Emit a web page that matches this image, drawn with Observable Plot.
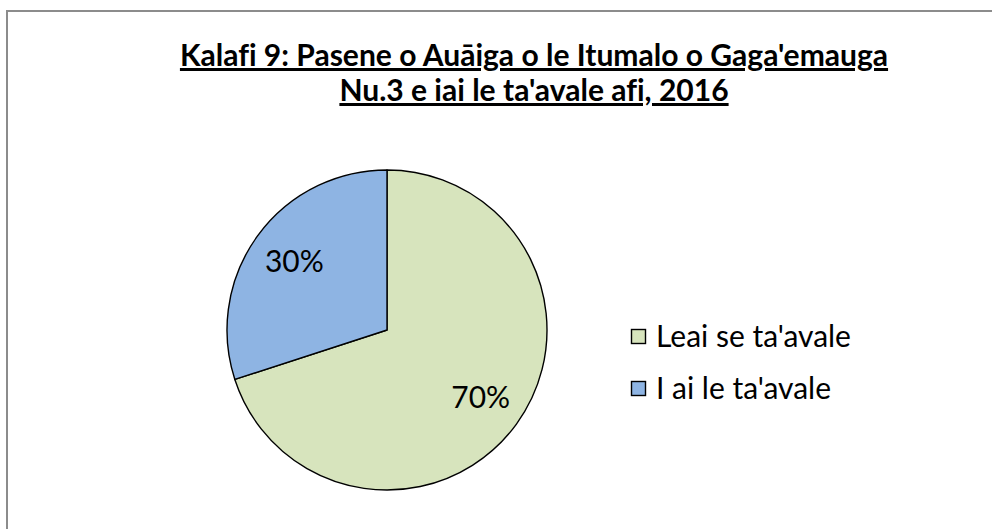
<!DOCTYPE html>
<html><head><meta charset="utf-8">
<script src="https://cdn.jsdelivr.net/npm/d3@7"></script>
<script src="https://cdn.jsdelivr.net/npm/@observablehq/plot@0.6"></script>
<style>
body{margin:0;background:#fff;}
#wrap{position:relative;width:992px;height:529px;overflow:hidden;background:#fff;}
#frame{position:absolute;left:6px;top:10px;width:1100px;height:700px;border:2px solid #8c8c8c;box-sizing:border-box;}
#chart,#over{position:absolute;left:0;top:0;}
text{font-variant-ligatures:none;}
#chart svg, #chart text{font-family:Lato, sans-serif !important;}
</style></head>
<body><div id="wrap"><div id="frame"></div><div id="chart"></div><svg id="over" width="992" height="529"></svg></div>
<script>
const titleLines = ["Kalafi 9: Pasene o Auāiga o le Itumalo o Gaga'emauga", "Nu.3 e iai le ta'avale afi, 2016"];
const categories = ["Leai se ta'avale", "I ai le ta'avale"];
const values = [70, 30];
const labels = ["70%", "30%"];
const colors = ["#D7E4BD", "#8EB4E3"];

const FONT = "Lato, sans-serif";

function draw() {
  const ctx = document.createElement("canvas").getContext("2d");
  function fit(text, weight, target) {
    ctx.font = `${weight} 100px Lato`;
    return 100 * target / ctx.measureText(text).width;
  }
  const titleSize = fit(titleLines[0], "bold", 709);
  const legendSize = fit(categories[0], "normal", 195);
  const labelSize = legendSize;

  const data = categories.map((c, i) => ({category: c, value: values[i], label: labels[i]}));
  const arcs = d3.pie().sort(null).value(d => d.value)(data);
  const k = 0.72;
  const labelData = arcs.map(a => {
    const m = (a.startAngle + a.endAngle) / 2;
    return {label: a.data.label, x: k * Math.sin(m), y: k * Math.cos(m)};
  });
  const color = d3.scaleOrdinal(categories, colors);

  function pieMark(index, scales) {
    const cx = scales.x(0), cy = scales.y(0), r = scales.x(1) - scales.x(0);
    const g = d3.create("svg:g").attr("transform", `translate(${cx},${cy})`);
    const arc = d3.arc().innerRadius(0).outerRadius(r);
    g.selectAll("path").data(arcs).join("path")
      .attr("d", arc)
      .attr("fill", d => color(d.data.category))
      .attr("stroke", "#000")
      .attr("stroke-width", 1.4)
      .attr("stroke-linejoin", "round");
    return g.node();
  }

  const plot = Plot.plot({
    width: 992, height: 529,
    marginTop: 0, marginRight: 0, marginBottom: 0, marginLeft: 0,
    x: {domain: [-1, 1], range: [227, 547], axis: null},
    y: {domain: [-1, 1], range: [490, 170], axis: null},
    style: {background: "transparent", fontFamily: FONT},
    marks: [
      pieMark,
      Plot.text(labelData, {x: "x", y: "y", text: "label", fontSize: labelSize, fill: "#000", fontFamily: FONT})
    ]
  });
  document.getElementById("chart").appendChild(plot);

  const over = d3.select("#over");
  const titleBaselines = [66, 101];
  titleLines.forEach((t, i) => {
    over.append("text").attr("x", 534).attr("y", titleBaselines[i])
      .attr("text-anchor", "middle").attr("font-family", FONT).attr("font-weight", "bold")
      .attr("font-size", titleSize).attr("fill", "#000")
      .attr("text-decoration", "underline").text(t);
  });
  const legY = [337, 389];
  categories.forEach((c, i) => {
    over.append("rect").attr("x", 631.5).attr("y", legY[i] - 7.5).attr("width", 14).attr("height", 14)
      .attr("fill", colors[i]).attr("stroke", "#000").attr("stroke-width", 1.4);
    over.append("text").attr("x", 656).attr("y", legY[i] + 10)
      .attr("font-family", FONT).attr("font-size", legendSize).attr("fill", "#000").text(c);
  });
}

Promise.all([document.fonts.load("400 20px Lato"), document.fonts.load("700 20px Lato")])
  .catch(() => {}).then(draw);
</script></body></html>
